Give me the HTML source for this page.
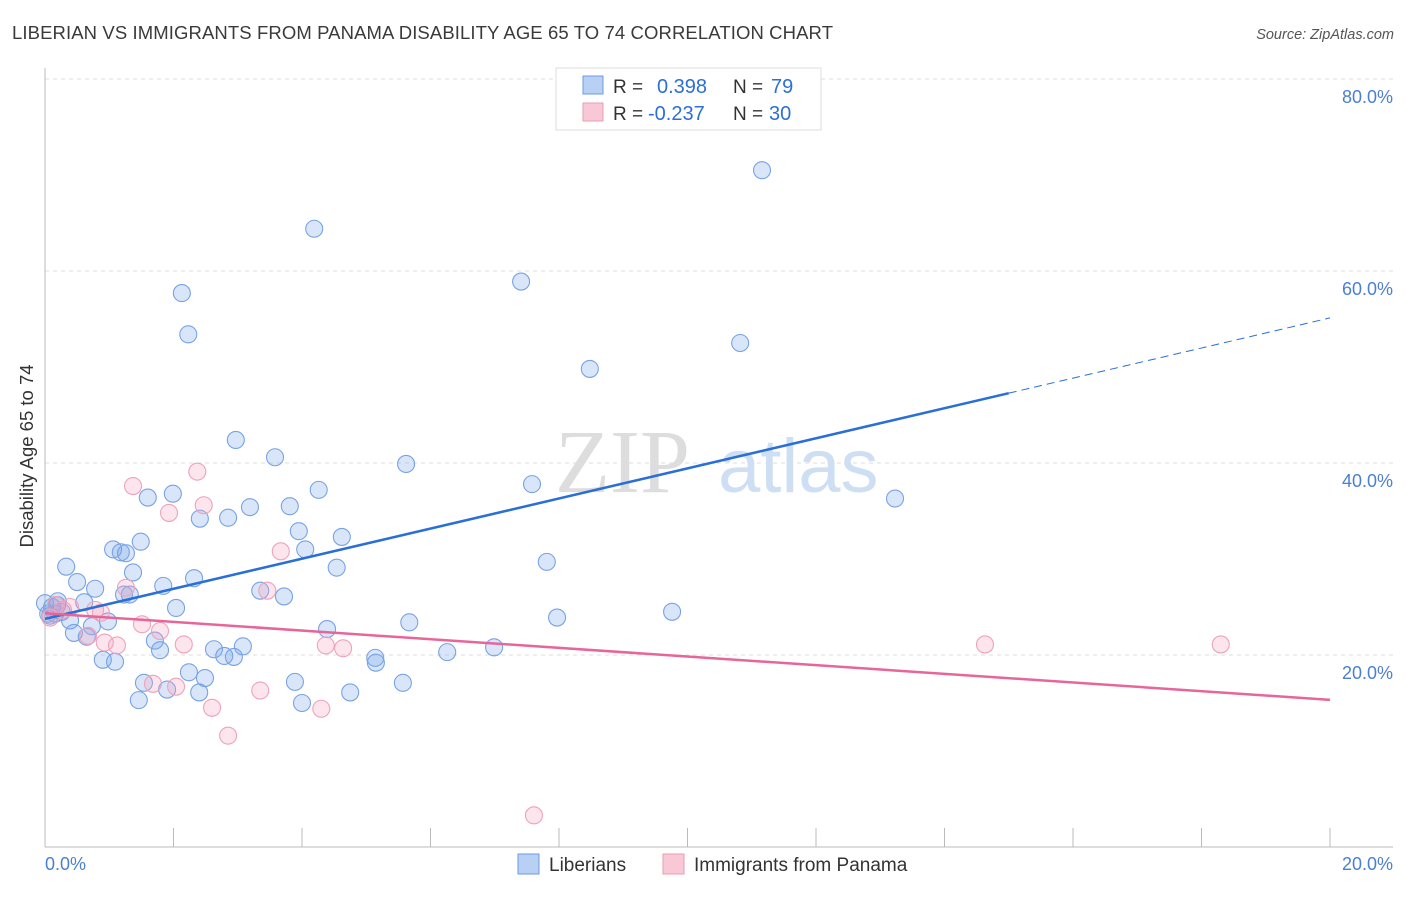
<!DOCTYPE html>
<html><head><meta charset="utf-8"><style>
body{margin:0;background:#fff;font-family:"Liberation Sans",sans-serif;}
</style></head><body>
<svg width="1406" height="892" xmlns="http://www.w3.org/2000/svg" font-family="Liberation Sans, sans-serif">
<text x="12" y="39" font-size="18.5" fill="#3a3a3a" textLength="821">LIBERIAN VS IMMIGRANTS FROM PANAMA DISABILITY AGE 65 TO 74 CORRELATION CHART</text>
<text x="1394" y="39" font-size="14.5" fill="#555" text-anchor="end" font-style="italic">Source: ZipAtlas.com</text>
<g id="grid"></g>
<text x="555" y="492" font-size="90" fill="#ddd" font-family="Liberation Serif, serif">ZIP</text>
<text x="718" y="492" font-size="76" fill="#cfdff3">atlas</text>
<g id="axes"></g>
<g id="pts"></g>
<g id="lines"></g>
<text transform="translate(33,456) rotate(-90)" font-size="18.5" fill="#333" text-anchor="middle">Disability Age 65 to 74</text>
<text x="45" y="870" font-size="18" fill="#4a7fd4">0.0%</text>
<text x="1393" y="870" font-size="18" fill="#4a7fd4" text-anchor="end">20.0%</text>
<g>
<rect x="556" y="68" width="265" height="62" fill="#fff" stroke="#ddd"/>
<rect x="583" y="76" width="20" height="18" fill="#b8d0f4" stroke="#6b9be0"/>
<rect x="583" y="103" width="20" height="18" fill="#f8c8d6" stroke="#eb9ab4"/>
<text x="613" y="93" font-size="19" fill="#333">R = </text><text x="657" y="93" font-size="20" fill="#2c6fd6">0.398</text>
<text x="733" y="93" font-size="19" fill="#333">N = </text><text x="771" y="93" font-size="20" fill="#2c6fd6">79</text>
<text x="613" y="120" font-size="19" fill="#333">R = </text><text x="648" y="120" font-size="20" fill="#2c6fd6">-0.237</text>
<text x="733" y="120" font-size="19" fill="#333">N = </text><text x="769" y="120" font-size="20" fill="#2c6fd6">30</text>
</g>
<g>
<rect x="518" y="854" width="21" height="20" fill="#b8d0f4" stroke="#6b9be0"/>
<text x="549" y="871" font-size="19" fill="#333">Liberians</text>
<rect x="663" y="854" width="21" height="20" fill="#f8c8d6" stroke="#eb9ab4"/>
<text x="694" y="871" font-size="19" fill="#333">Immigrants from Panama</text>
</g>
</svg>
<script>
const yTicks=[20,40,60,80];
const yTickLabels=["20.0%","40.0%","60.0%","80.0%"];
const blueX=[11.16,4.19,7.41,2.13,2.23,10.82,8.48,2.97,3.58,5.62,7.58,13.23,1.60,1.99,3.19,3.81,4.26,2.41,2.85,3.95,4.62,1.49,1.06,1.18,1.26,4.05,7.81,0.33,4.54,1.37,0.50,1.84,2.32,0.78,3.35,3.72,1.23,1.32,0.61,0.20,2.04,9.76,7.97,0.08,0.16,0.98,0.39,0.73,5.67,4.39,0.45,0.65,1.71,1.79,2.63,3.08,6.26,6.99,2.79,2.94,0.90,1.09,5.14,5.15,2.24,2.49,3.89,5.57,1.54,1.90,2.40,4.75,1.46,4.00,0.05,0.26,0.11,0.19,0.00];
const blueY=[70.5,64.4,58.9,57.7,53.4,52.5,49.8,42.4,40.6,39.9,37.8,36.3,36.4,36.8,35.4,35.5,37.2,34.2,34.3,32.9,32.3,31.8,31.0,30.7,30.6,31.0,29.7,29.2,29.1,28.6,27.6,27.2,28.0,26.9,26.7,26.1,26.3,26.3,25.5,25.6,24.9,24.5,23.9,24.1,24.3,23.5,23.6,23.0,23.4,22.7,22.3,21.9,21.5,20.5,20.6,20.9,20.3,20.8,19.9,19.8,19.5,19.3,19.7,19.2,18.2,17.6,17.2,17.1,17.1,16.4,16.1,16.1,15.3,15.0,24.3,24.5,25.0,25.2,25.4];
const pinkX=[1.37,2.37,1.93,2.47,3.67,1.26,3.46,0.17,0.39,0.78,0.87,1.51,1.79,2.16,4.37,4.64,0.93,1.12,0.67,1.68,2.04,3.35,2.60,4.30,2.85,7.61,14.63,18.30,0.08,0.28];
const pinkY=[37.6,39.1,34.8,35.6,30.8,27.0,26.7,25.2,25.0,24.7,24.4,23.2,22.5,21.1,21.0,20.7,21.3,21.0,22.0,17.0,16.7,16.3,14.5,14.4,11.6,3.3,21.1,21.1,23.9,24.7];
const NS="http://www.w3.org/2000/svg";
const X=v=>45+v*64.25, Y=v=>847-v*9.6;
function mk(p,t,a){const e=document.createElementNS(NS,t);for(const k in a)e.setAttribute(k,a[k]);document.getElementById(p).appendChild(e);return e;}
yTicks.forEach((t,i)=>{
 const g=mk('grid','line',{x1:45,x2:1393,y1:Y(t),y2:Y(t),stroke:'#ddd','stroke-dasharray':'4,4'});
 
 
 const l=mk('grid','text',{x:1393,y:Y(t)+24,'font-size':18,fill:'#4a7fd4','text-anchor':'end'});
 l.textContent=yTickLabels[i];
 
 
});
mk('axes','line',{x1:45,x2:45,y1:68,y2:847,stroke:'#bbb'});
const xa=mk('axes','line',{x1:45,x2:1393,y1:847,y2:847,stroke:'#bbb'});


for(let i=1;i<=10;i++){mk('axes','line',{x1:X(i*2),x2:X(i*2),y1:828,y2:847,stroke:'#bbb'});}
function pts(xs,ys,fill,stroke,name){xs.forEach((x,i)=>{const c=mk('pts','circle',{cx:X(x),cy:Y(ys[i]),r:8.5,fill:fill,stroke:stroke,'stroke-width':1.1});
 
 });}
pts(blueX,blueY,'rgba(120,165,235,0.28)','#78a3e3','liberian-point');
pts(pinkX,pinkY,'rgba(245,160,190,0.28)','#eea3bb','panama-point');
function reg(xs,ys){const n=xs.length;let mx=0,my=0;xs.forEach((x,i)=>{mx+=x;my+=ys[i];});mx/=n;my/=n;let sxy=0,sxx=0;xs.forEach((x,i)=>{sxy+=(x-mx)*(ys[i]-my);sxx+=(x-mx)*(x-mx);});const b=sxy/sxx;return [my-b*mx,b];}
const [ba,bb]=reg(blueX,blueY);
let l1=mk('lines','line',{x1:X(0),y1:Y(ba),x2:X(15),y2:Y(ba+bb*15),stroke:'#2a6fd6','stroke-width':2.5});


mk('lines','line',{x1:X(15),y1:Y(ba+bb*15),x2:X(20),y2:Y(ba+bb*20),stroke:'#2a6fd6','stroke-width':1,'stroke-dasharray':'8,5'});
const [pa,pb]=reg(pinkX,pinkY);
let l2=mk('lines','line',{x1:X(0),y1:Y(pa),x2:X(20),y2:Y(pa+pb*20),stroke:'#e8659a','stroke-width':2.5});


</script>
</body></html>
